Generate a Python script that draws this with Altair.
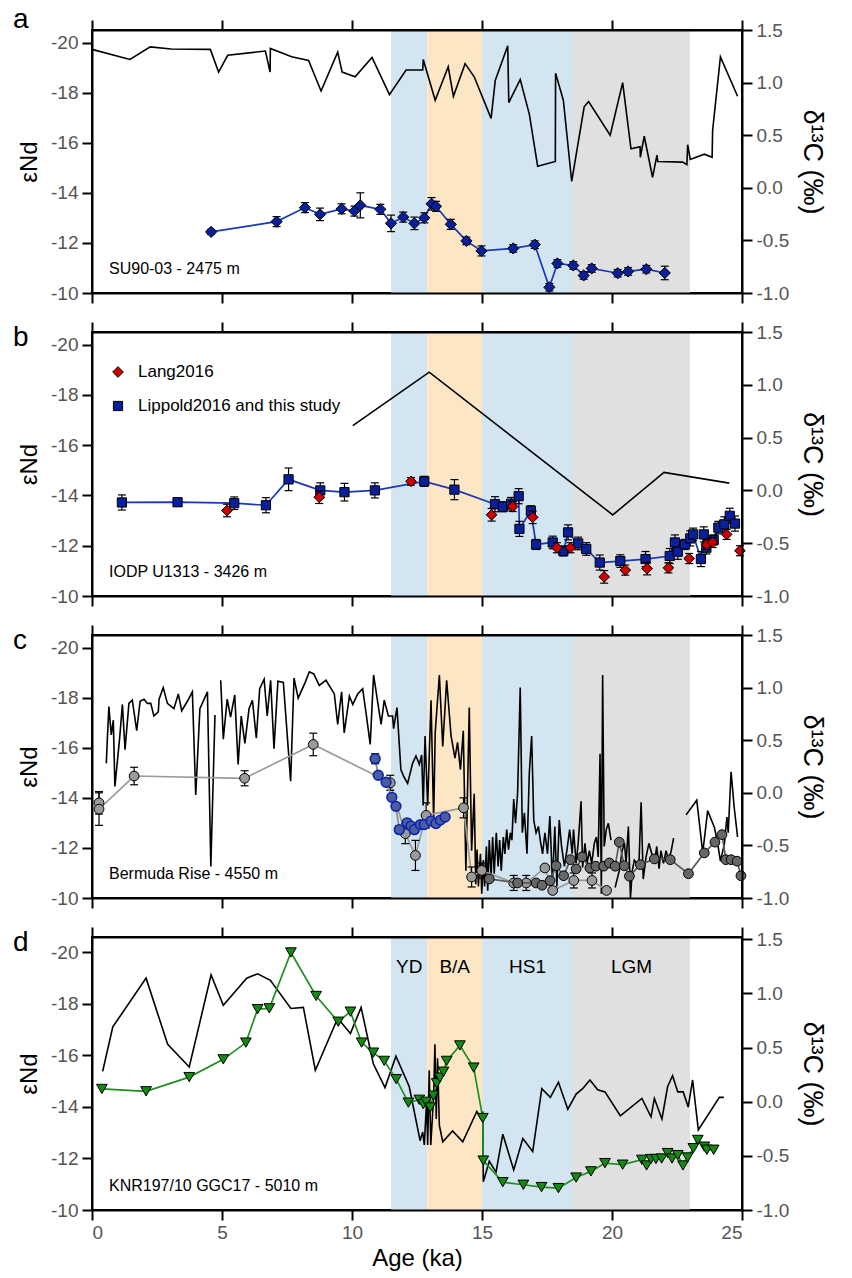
import altair as alt
import pandas as pd

FONT = "Liberation Sans"
X_TICKS = [0, 5, 10, 15, 20, 25]
END_TICKS = [-20, -18, -16, -14, -12, -10]
D13_TICKS = [-1.0, -0.5, 0.0, 0.5, 1.0, 1.5]

BAND_NAME = ["YD", "B/A", "HS1", "LGM"]
BAND_START = [11.5, 12.9, 15.0, 18.5]
BAND_END = [12.9, 15.0, 18.5, 23.0]
BAND_FILL = ["#d2e5f1", "#fde6c4", "#d2e5f1", "#e0e0e0"]

PANEL_LETTERS = ["a", "b", "c", "d"]
SITES = ["SU90-03 - 2475 m", "IODP U1313 - 3426 m", "Bermuda Rise - 4550 m", "KNR197/10 GGC17 - 5010 m"]
LEGEND_LABELS = ["Lang2016", "Lippold2016 and this study"]

# ---------------- panel a ----------------
A_END = [(4.58, -12.44, 0.1), (7.10, -12.85, 0.2), (8.19, -13.41, 0.2), (8.77, -13.14, 0.25),
         (9.60, -13.36, 0.2), (10.09, -13.27, 0.2), (10.32, -13.50, 0.5), (11.09, -13.34, 0.2),
         (11.50, -12.78, 0.33), (11.97, -13.03, 0.2), (12.40, -12.78, 0.25), (12.78, -13.00, 0.2),
         (13.06, -13.56, 0.25), (13.23, -13.46, 0.2), (13.80, -12.74, 0.2), (14.40, -12.08, 0.15),
         (14.98, -11.68, 0.2), (16.20, -11.78, 0.15), (17.03, -11.93, 0.15), (17.59, -10.23, 0.15),
         (17.90, -11.18, 0.15), (18.51, -11.10, 0.15), (18.91, -10.70, 0.15), (19.22, -10.98, 0.15),
         (20.22, -10.79, 0.15), (20.62, -10.86, 0.15), (21.32, -10.95, 0.15), (22.03, -10.80, 0.27)]
A_D13 = [(0, 1.316), (1.46, 1.22), (2.24, 1.34), (3.04, 1.32), (4.55, 1.316), (4.87, 1.10), (5.22, 1.26),
         (6.67, 1.30), (6.85, 1.10), (6.86, 1.325), (7.68, 1.245), (8.33, 1.21), (8.81, 0.92), (9.45, 1.29),
         (9.62, 1.10), (10.12, 1.055), (10.77, 1.24), (11.44, 0.886), (12.08, 1.12), (12.72, 1.12),
         (12.74, 1.22), (13.2, 0.832), (13.7, 1.15), (13.9, 0.87), (14.35, 1.18), (14.7, 1.055),
         (15.35, 0.66), (15.51, 1.02), (15.99, 1.35), (16.03, 0.81), (16.47, 1.03), (16.82, 0.70),
         (17.14, 0.205), (17.82, 0.25), (17.83, 1.09), (18.13, 0.83), (18.45, 0.06), (18.93, 0.77),
         (19.1, 0.82), (19.93, 0.50), (20.41, 1.0), (20.73, 0.37), (21.08, 0.39), (21.09, 0.29),
         (21.24, 0.49), (21.56, 0.10), (21.73, 0.31), (21.76, 0.25), (22.72, 0.244), (22.88, 0.22),
         (22.91, 0.41), (23.01, 0.27), (23.55, 0.32), (23.85, 0.29), (23.87, 0.545), (24.17, 1.245),
         (24.83, 0.87)]

# ---------------- panel b ----------------
B_LIPPOLD = [(1.15, -13.72, 0.3), (3.29, -13.73, 0.15), (5.47, -13.69, 0.25), (6.69, -13.61, 0.3),
             (7.56, -14.64, 0.45), (8.78, -14.20, 0.3), (9.71, -14.13, 0.35), (10.88, -14.20, 0.3),
             (12.78, -14.56, 0.2), (13.94, -14.23, 0.4), (15.50, -13.65, 0.3), (15.80, -13.55, 0.2),
             (16.12, -13.67, 0.25), (16.41, -13.97, 0.3), (16.44, -12.67, 0.3), (16.88, -13.39, 0.2),
             (17.08, -12.05, 0.2), (17.72, -12.13, 0.25), (18.13, -11.79, 0.2), (18.31, -12.53, 0.3),
             (18.70, -12.09, 0.25), (19.01, -11.87, 0.25), (19.53, -11.33, 0.3), (20.32, -11.39, 0.25),
             (21.29, -11.47, 0.3), (22.22, -11.59, 0.3), (22.42, -12.13, 0.3), (22.53, -11.76, 0.3),
             (22.81, -12.05, 0.2), (23.01, -12.29, 0.3), (23.12, -12.45, 0.25), (23.42, -11.47, 0.3),
             (23.53, -12.45, 0.3), (23.63, -11.92, 0.25), (23.91, -12.23, 0.2), (24.09, -12.72, 0.25),
             (24.32, -12.85, 0.3), (24.53, -13.19, 0.3), (24.73, -12.88, 0.3)]
B_LANG = [(5.19, -13.40, 0.25), (8.74, -13.93, 0.25), (12.27, -14.56, 0.15), (15.37, -13.23, 0.25),
          (16.18, -13.56, 0.2), (16.95, -13.13, 0.25), (17.88, -11.92, 0.2), (18.40, -11.92, 0.2),
          (19.70, -10.76, 0.25), (20.51, -11.03, 0.2), (21.35, -11.09, 0.25), (22.17, -11.12, 0.2),
          (22.97, -11.49, 0.2), (23.64, -12.05, 0.2), (23.87, -12.13, 0.2), (24.41, -12.45, 0.2),
          (24.92, -11.80, 0.2)]
B_D13 = [(10.03, 0.613), (12.97, 1.12), (20.03, -0.232), (22.0, 0.17), (24.51, 0.069)]

# ---------------- panel c ----------------
C_LIGHT = [(0.27, -13.8, 0.45), (0.27, -13.55, 0.65), (1.62, -14.87, 0.35), (5.87, -14.78, 0.3),
           (8.51, -16.13, 0.45), (11.47, -14.60, 0.3), (12.05, -12.57, 0.4), (12.44, -11.70, 0.6),
           (12.85, -13.30, 0.5), (14.29, -13.60, 0.4), (14.60, -10.84, 0.4), (14.99, -11.10, 0.3),
           (16.22, -10.60, 0.3), (16.70, -10.60, 0.3), (17.42, -11.20, 0.1), (17.72, -10.30, 0.1),
           (18.53, -10.70, 0.3), (19.23, -10.70, 0.3), (19.79, -10.30, 0.1)]
C_BLUE = [(10.89, -15.56, 0.2), (11.01, -14.90, 0.1), (11.31, -14.62, 0.1), (11.53, -14.02, 0.1),
          (11.69, -13.66, 0.1), (11.82, -12.73, 0.15), (12.12, -13.00, 0.1), (12.27, -12.87, 0.1),
          (12.40, -12.73, 0.1), (12.63, -12.93, 0.1), (12.78, -12.93, 0.1), (13.04, -13.07, 0.1),
          (13.23, -12.97, 0.1), (13.40, -13.11, 0.1), (13.58, -13.23, 0.1)]
C_DARK = [(15.28, -10.76), (16.37, -10.60), (17.08, -10.60), (17.31, -10.51), (17.62, -10.69),
          (17.85, -11.29), (18.14, -10.89), (18.40, -11.53), (18.62, -11.16), (18.85, -11.64),
          (19.15, -11.20), (19.38, -11.27), (19.68, -11.27), (19.90, -11.40), (20.12, -11.27),
          (20.28, -12.23), (20.47, -11.29), (20.67, -10.87), (21.09, -11.33), (21.63, -11.56),
          (22.24, -11.53), (22.94, -10.97), (23.55, -11.80), (23.96, -12.23), (24.23, -12.53),
          (24.38, -11.53), (24.58, -11.53), (24.81, -11.47), (24.96, -10.89)]
C_D13_SEG1 = [(0.55, 0.28), (0.59, 0.51), (0.65, 0.82), (0.74, 0.55), (0.82, 0.69), (0.88, 0.06),
              (1.06, 0.51), (1.17, 0.84), (1.27, 0.41), (1.42, 0.85), (1.55, 0.88), (1.72, 0.59),
              (1.85, 0.87), (2.0, 0.89), (2.13, 0.85), (2.26, 0.85), (2.38, 0.73), (2.55, 0.77),
              (2.58, 0.89), (2.74, 1.0), (2.9, 0.85), (3.15, 0.8), (3.32, 0.94), (3.45, 0.78),
              (3.67, 0.87), (3.86, 0.96), (3.99, -0.02), (4.15, 0.8), (4.44, 0.96), (4.57, -0.7),
              (4.73, 0.74)]
C_D13_SEG2 = [(4.95, 1.07), (5.05, 0.51), (5.2, 0.89), (5.33, 0.72), (5.49, 0.93), (5.62, 0.27),
              (5.74, 0.73), (5.88, 0.47), (6.04, 0.8), (6.17, 0.88), (6.32, 0.52), (6.45, 0.99),
              (6.62, 1.08), (6.74, 0.73), (6.87, 1.07), (7.0, 0.42), (7.15, 1.06), (7.36, 1.05),
              (7.64, 0.11), (7.77, 1.09), (7.93, 0.9), (8.2, 1.05), (8.36, 1.15), (8.53, 1.13),
              (8.74, 1.02), (9.0, 1.07), (9.32, 0.94), (9.45, 0.65), (9.6, 0.96), (9.7, 0.57),
              (9.9, 0.92), (10.03, 0.84), (10.22, 0.94), (10.41, 0.99), (10.54, 0.76), (10.7, 0.46),
              (10.83, 1.12), (10.99, 0.86), (11.12, 0.65), (11.24, 0.88), (11.4, 0.73), (11.56, 0.73),
              (11.6, 0.61), (11.73, 0.81), (11.88, 0.22), (12.0, 0.15), (12.14, 0.09), (12.33, 0.28),
              (12.46, 0.35), (12.59, 0.27), (12.68, 0.36), (12.74, -0.12), (12.81, 0.54), (12.91, -0.12),
              (13.04, 0.88), (13.14, -0.26), (13.2, 0.57), (13.36, 1.12), (13.49, 0.44), (13.64, 1.07),
              (13.81, 0.54), (13.96, 0.33), (14.06, 0.48), (14.17, 0.22), (14.28, 0.59), (14.38, -0.74),
              (14.51, 0.81), (14.6, -0.55), (14.7, -0.01), (14.76, -0.87), (14.81, -0.54), (14.86, -0.89),
              (14.94, -0.58), (14.99, -0.96), (15.05, -0.64), (15.1, -0.89), (15.17, -0.51), (15.22, -0.93),
              (15.28, -0.45), (15.35, -0.8), (15.41, -0.42), (15.47, -0.77), (15.55, -0.38), (15.62, -0.7),
              (15.68, -0.45), (15.74, -0.74), (15.82, -0.42), (15.88, -0.58), (15.95, -0.35), (16.02, -0.54),
              (16.09, -0.38), (16.15, -0.45), (16.22, -0.06), (16.29, -0.29), (16.37, 0.0), (16.47, 1.0),
              (16.55, -0.38), (16.63, -0.19), (16.73, -0.58), (16.82, 0.19), (16.91, 0.54), (16.99, -0.26),
              (17.08, -0.38), (17.17, -0.32), (17.24, -0.45), (17.33, -0.58), (17.42, -0.38), (17.52, -0.58),
              (17.61, -0.22), (17.71, -0.86), (17.8, -0.32), (17.88, -0.89), (17.97, -0.26), (18.06, -0.51),
              (18.17, -0.7), (18.27, -0.54), (18.37, -0.35), (18.47, -0.58), (18.52, -0.35), (18.62, -0.67),
              (18.7, -0.48), (18.81, -0.08), (18.87, -0.71), (18.96, -0.48), (19.04, -0.67), (19.13, -0.55),
              (19.22, -0.67), (19.32, -0.48), (19.4, -0.42), (19.47, -0.61), (19.54, 0.37), (19.59, -0.96),
              (19.64, 1.12), (19.7, -0.51), (19.78, -0.35), (19.86, -0.29), (19.96, -0.45)]
C_D13_SEG3 = [(20.12, -0.9), (20.28, -0.74), (20.39, -0.55), (20.48, -0.48), (20.54, -0.67), (20.63, -0.32),
              (20.71, -1.0), (20.78, -0.74), (20.86, -0.64), (20.95, -0.67), (21.03, -0.72), (21.12, -0.09),
              (21.2, -0.82), (21.31, -0.61), (21.42, -0.48), (21.53, -0.58), (21.63, -0.67), (21.72, -0.51),
              (21.81, -0.72), (21.88, -0.55), (21.98, -0.67), (22.08, -0.55), (22.17, -0.64), (22.27, -0.56),
              (22.37, -0.43)]
C_D13_SEG4 = [(22.85, -0.21), (23.26, -0.07), (23.49, -0.57), (23.68, -0.17), (23.94, -0.33), (24.07, -0.49),
              (24.17, -0.65), (24.32, -0.49), (24.42, -0.23), (24.47, -0.38), (24.58, 0.2), (24.7, -0.14),
              (24.83, -0.42)]

# ---------------- panel d ----------------
D_END = [(0.38, -14.70), (2.08, -14.61), (3.74, -15.16), (5.05, -15.85), (5.92, -16.50), (6.37, -17.80),
         (6.82, -17.83), (7.65, -20.0), (8.62, -18.31), (9.47, -17.31), (9.94, -17.70), (10.37, -16.50),
         (10.82, -16.11), (11.24, -15.79), (11.70, -15.08), (12.17, -14.17), (12.59, -14.28), (12.74, -14.11),
         (12.85, -14.20), (13.01, -13.98), (13.13, -14.44), (13.26, -14.92), (13.38, -15.14), (13.52, -15.37),
         (13.64, -15.79), (14.15, -16.39), (14.68, -15.53), (15.03, -13.57), (15.05, -11.92), (15.80, -11.08),
         (16.59, -10.98), (17.29, -10.89), (17.94, -10.85), (18.62, -11.26), (19.19, -11.50), (19.73, -11.82),
         (20.41, -11.76), (21.15, -11.95), (21.33, -11.73), (21.50, -11.98), (21.69, -11.98), (21.91, -12.00),
         (22.14, -12.21), (22.31, -12.00), (22.53, -12.13), (22.73, -11.73), (22.91, -12.04), (23.13, -12.40),
         (23.30, -12.72), (23.55, -12.46), (23.65, -12.34), (23.91, -12.34)]
D_D13 = [(0.41, 0.28), (0.80, 0.69), (2.08, 1.14), (2.91, 0.53), (3.74, 0.32), (4.58, 1.17), (5.05, 0.89),
         (5.95, 1.14), (6.37, 1.18), (6.86, 1.12), (7.65, 0.86), (8.13, 0.87), (8.59, 0.29), (9.45, 0.77),
         (9.94, 0.63), (10.35, 0.87), (10.82, 0.35), (11.27, 0.13), (11.69, 0.42), (12.20, 0.14),
         (12.62, -0.36), (12.72, -0.28), (12.78, -0.40), (12.87, 0.01), (12.91, -0.40), (12.97, 0.29),
         (13.03, -0.40), (13.14, 0.05), (13.19, 0.53), (13.24, -0.16), (13.29, 0.40), (13.36, -0.22),
         (13.49, -0.37), (13.87, -0.27), (14.26, -0.37), (14.80, -0.09), (14.96, -0.16), (15.03, -0.09),
         (15.05, -0.74), (15.28, -0.55), (15.54, -0.65), (15.80, -0.30), (16.22, -0.63), (16.57, -0.34),
         (16.95, -0.46), (17.30, 0.12), (17.63, 0.04), (17.94, 0.18), (18.30, -0.07), (18.62, 0.07),
         (18.87, 0.12), (19.15, 0.20), (19.45, 0.11), (19.73, 0.09), (20.32, -0.13), (21.15, 0.03),
         (21.50, -0.14), (21.63, 0.03), (21.92, -0.16), (22.14, 0.14), (22.33, 0.24), (22.53, 0.09),
         (22.74, 0.09), (22.93, -0.05), (23.10, 0.20), (23.32, -0.26), (24.13, 0.04), (24.30, 0.04)]

# ---------------- helpers ----------------
W = 650
HEIGHTS = [263, 264, 263, 273]
LEFT_TOP = [-20.5, -20.5, -20.5, -20.6]
RIGHT_TOP = [1.5, 1.5, 1.5, 1.52]
XS = alt.Scale(domain=[0, 25], nice=False, zero=False)

TICK_STYLE = dict(tickSize=10, tickWidth=2, tickColor="black", domainColor="black",
                  domainWidth=2, grid=False, zindex=1)


def x_axis(orient, labels=False):
    if labels:
        return alt.Axis(orient=orient, values=X_TICKS, labels=True, labelColor="#555555",
                        labelFontSize=19, labelPadding=3, labelFont=FONT, title="Age (ka)",
                        titleFontSize=24, titleFont=FONT, titleColor="black",
                        titleFontWeight="normal", titlePadding=4, **TICK_STYLE)
    return alt.Axis(orient=orient, values=X_TICKS, labels=False, title=None, **TICK_STYLE)


L_AXIS = alt.Axis(orient="left", values=END_TICKS, title="εNd", labelExpr="'' + datum.value",
                  labelColor="#555555", labelFontSize=19, labelPadding=4, labelFont=FONT,
                  titleFontSize=24, titleColor="black", titleFontWeight="normal", titleFont=FONT,
                  titlePadding=9, **TICK_STYLE)
R_AXIS = alt.Axis(orient="right", values=D13_TICKS, title="δ¹³C (‰)",
                  labelExpr="replace(format(datum.value, '.1f'), '\u2212', '-')",
                  labelColor="#555555", labelFontSize=19, labelPadding=4, labelFont=FONT,
                  titleFontSize=27, titleColor="black", titleFontWeight="normal", titleFont=FONT,
                  titleAngle=90, titlePadding=9, **TICK_STYLE)


def end_df(rows):
    df = pd.DataFrame(rows, columns=["age", "enb", "err"][:len(rows[0])])
    if "err" in df:
        df["lo"] = df["enb"] - df["err"]
        df["hi"] = df["enb"] + df["err"]
    return df


def series(rows, bottom, ys, shape, fill, stroke, size, line_color=None, sw=1.0, err=True):
    df = end_df(rows)
    base = alt.Chart(df)
    X = alt.X("age:Q", scale=XS, axis=bottom)
    out = []
    if line_color:
        out.append(base.mark_line(color=line_color, strokeWidth=1.7).encode(
            x=X, y=alt.Y("enb:Q", scale=ys, axis=L_AXIS)))
    if err and "lo" in df:
        out.append(base.mark_rule(color="black", strokeWidth=1.2).encode(
            x=X, y=alt.Y("lo:Q", scale=ys, axis=L_AXIS), y2="hi:Q"))
        for f in ("lo", "hi"):
            out.append(base.mark_point(shape="stroke", size=64, color="black", strokeWidth=1.2,
                                       opacity=1).encode(
                x=X, y=alt.Y(f"{f}:Q", scale=ys, axis=L_AXIS)))
    out.append(base.mark_point(shape=shape, filled=True, color=fill, fill=fill, stroke=stroke,
                               strokeWidth=sw, size=size, opacity=1).encode(
        x=X, y=alt.Y("enb:Q", scale=ys, axis=L_AXIS)))
    return out


def d13_layer(segments, rs):
    frames = []
    for i, seg in enumerate(segments):
        df = pd.DataFrame(seg, columns=["age", "d13"])
        df["seg"] = i
        frames.append(df)
    df = pd.concat(frames, ignore_index=True)
    return alt.Chart(df).mark_line(color="black", strokeWidth=1.6).encode(
        x=alt.X("age:Q", scale=XS, axis=None),
        y=alt.Y("d13:Q", scale=rs, axis=R_AXIS),
        detail="seg:N")


bands_df = pd.DataFrame({"name": BAND_NAME, "start": BAND_START, "end": BAND_END, "fill": BAND_FILL})
bands_df["mid"] = (bands_df["start"] + bands_df["end"]) / 2


def bands_layer():
    return alt.Chart(bands_df).mark_rect().encode(
        x=alt.X("start:Q", scale=XS, axis=x_axis("top")),
        x2="end:Q",
        color=alt.Color("fill:N", scale=None))


def text_layer(txt, x, y, size, align="left"):
    return alt.Chart(pd.DataFrame({"t": [txt]})).mark_text(
        align=align, baseline="middle", fontSize=size, font=FONT, color="black").encode(
        x=alt.value(x), y=alt.value(y), text="t:N")


def yl(i):
    return alt.Scale(domain=[LEFT_TOP[i], -10], reverse=True, nice=False, zero=False)


def yr(i):
    return alt.Scale(domain=[-1.0, RIGHT_TOP[i]], nice=False, zero=False)


def panel(i, left_layers, d13_segments, extra=()):
    h = HEIGHTS[i]
    letter_y = -10 if i == 0 else 6
    layers = [bands_layer(), alt.layer(d13_layer(d13_segments, yr(i))), alt.layer(*left_layers),
              text_layer(SITES[i], 17, h - 24, 16),
              text_layer(PANEL_LETTERS[i], -79, letter_y, 28)]
    layers.extend(extra)
    return alt.layer(*layers).resolve_scale(y="independent").resolve_axis(
        x="independent").properties(width=W, height=h)


BOT = x_axis("bottom")
BOT_LAB = x_axis("bottom", labels=True)

BLUE_FILL = "#0a1f9a"
BLUE_LINE = "#1a37b8"

# panel a
pa = panel(0, series(A_END, BOT, yl(0), "diamond", BLUE_FILL, "black", 125, line_color=BLUE_LINE), [A_D13])

# panel b
legend_b = [
    alt.Chart(pd.DataFrame({"k": [0]})).mark_point(shape="diamond", filled=True, fill="#cc0000",
                                                  color="#cc0000", stroke="black", strokeWidth=1,
                                                  size=115, opacity=1).encode(
        x=alt.value(26), y=alt.value(40)),
    alt.Chart(pd.DataFrame({"k": [0]})).mark_point(shape="square", filled=True, fill=BLUE_FILL,
                                                  color=BLUE_FILL, stroke="black", strokeWidth=1,
                                                  size=85, opacity=1).encode(
        x=alt.value(26), y=alt.value(74)),
    text_layer(LEGEND_LABELS[0], 46, 40, 17),
    text_layer(LEGEND_LABELS[1], 46, 74, 17),
]
b_left = (series(B_LIPPOLD, BOT, yl(1), "square", BLUE_FILL, "black", 85, line_color=BLUE_LINE)
          + series(B_LANG, BOT, yl(1), "diamond", "#cc0000", "black", 115))
pb = panel(1, b_left, [B_D13], legend_b)

# panel c
c_left = (series(C_LIGHT, BOT, yl(2), "circle", "#9a9a9a", "black", 95, line_color="#9a9a9a")
          + series(C_BLUE, BOT, yl(2), "circle", "#4d5c9e", "#0a24b0", 95, line_color="#8c8c8c", sw=1.6)
          + series(C_DARK, BOT, yl(2), "circle", "#666666", "black", 95, line_color="#5a5a5a"))
pc = panel(2, c_left, [C_D13_SEG1, C_D13_SEG2, C_D13_SEG3, C_D13_SEG4])

# panel d
band_labels = alt.Chart(bands_df).mark_text(fontSize=19, font=FONT, color="black",
                                            baseline="middle").encode(
    x=alt.X("mid:Q", scale=XS, axis=None), y=alt.value(30), text="name:N")
d_left = series(D_END, BOT_LAB, yl(3), "triangle-down", "#138a13", "black", 115, line_color="#1f8f1f")
pd_ = panel(3, d_left, [D_D13], [band_labels])

chart = alt.vconcat(pa, pb, pc, pd_, spacing=15).properties(
    padding={"left": 12, "top": 5, "right": 5, "bottom": 3}
).configure_view(stroke="black", strokeWidth=2).configure_axis(
    labelFont=FONT, titleFont=FONT).configure_text(font=FONT)

chart.save("out.html", embed_options={"renderer": "svg", "actions": False})
